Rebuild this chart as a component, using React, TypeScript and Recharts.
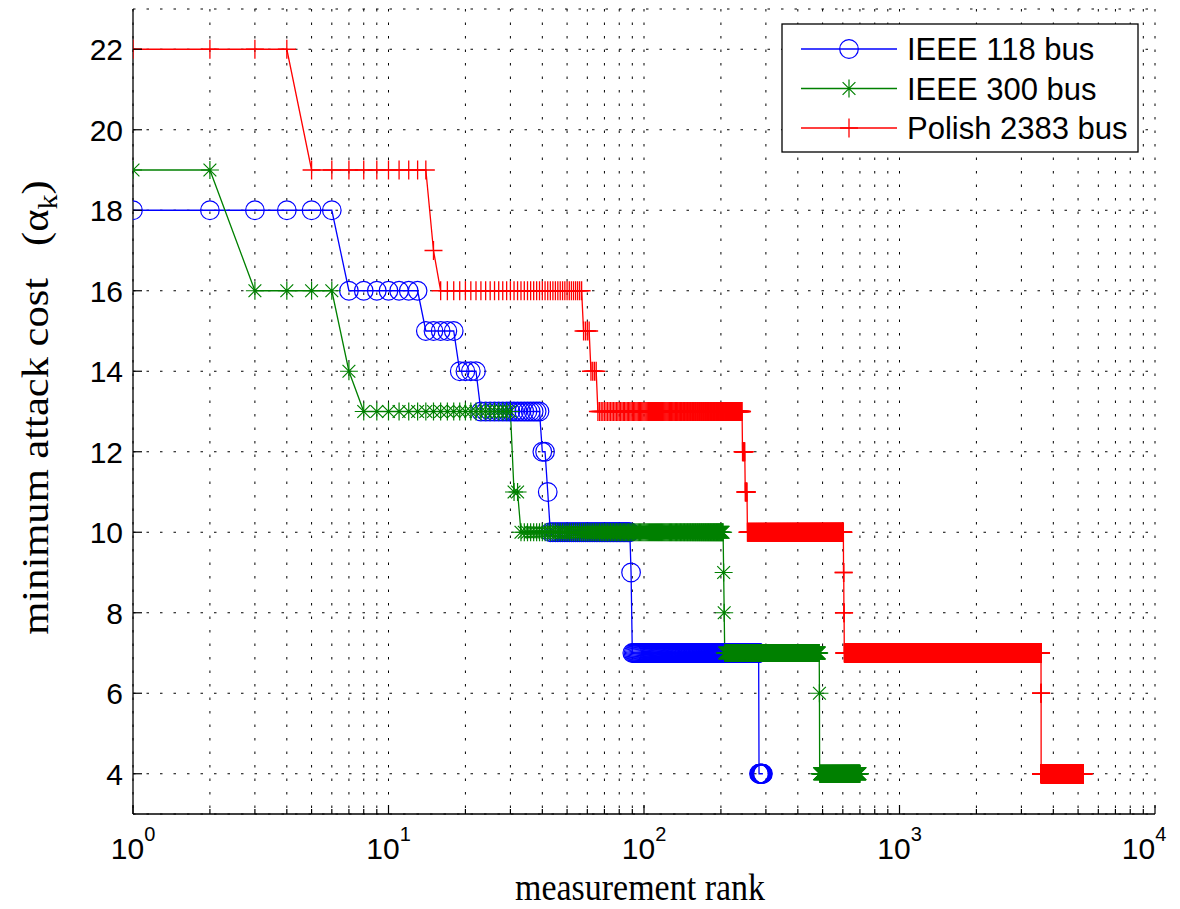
import React from 'react';
import { LineChart, Line, XAxis, YAxis, CartesianGrid } from 'recharts';

// Run-length encoded sorted minimum attack costs (value, number of measurements)
const ieee118Costs = [18, 16, 15, 14, 13, 12, 11, 10, 9, 7, 4];
const ieee118Counts = [6, 7, 5, 4, 17, 2, 1, 46, 1, 192, 11];

const ieee300Costs = [19, 16, 14, 13, 11, 10, 9, 8, 7, 6, 4];
const ieee300Counts = [2, 4, 1, 23, 2, 172, 1, 1, 279, 1, 214];

const polish2383Costs = [22, 19, 17, 16, 15, 14, 13, 12, 11, 10, 9, 8, 7, 6, 4];
const polish2383Counts = [4, 10, 1, 42, 4, 4, 177, 6, 5, 350, 2, 2, 2973, 3, 1657];

const seriesNames = ['IEEE 118 bus', 'IEEE 300 bus', 'Polish 2383 bus'];
const seriesColors = ['#0000ff', '#008000', '#ff0000'];

const xMajorTicks = [1, 10, 100, 1000, 10000];
const xMajorLabels = ['0', '1', '2', '3', '4'];
const xMinorMultipliers = [2, 3, 4, 5, 6, 7, 8, 9];
const yTicks = [4, 6, 8, 10, 12, 14, 16, 18, 20, 22];

const CHART_W = 1164;
const CHART_H = 901;

type Pt = { rank: number; cost: number };
function expand(costs: number[], counts: number[]): Pt[] {
  const out: Pt[] = [];
  let rank = 1;
  costs.forEach((c, i) => {
    for (let j = 0; j < counts[i]; j++) {
      out.push({ rank, cost: c });
      rank++;
    }
  });
  return out;
}

const data118 = expand(ieee118Costs, ieee118Counts);
const data300 = expand(ieee300Costs, ieee300Counts);
const data2383 = expand(polish2383Costs, polish2383Counts);

const allXTicks: number[] = [];
xMajorTicks.forEach((d, i) => {
  allXTicks.push(d);
  if (i < xMajorTicks.length - 1) xMinorMultipliers.forEach((m) => allXTicks.push(d * m));
});

const SANS = '"Liberation Sans", Arial, Helvetica, sans-serif';
const SERIF = '"Liberation Serif", "Times New Roman", serif';

const circleMarker = (cx: number, cy: number, color: string, key?: any) => (
  <circle key={key} cx={cx} cy={cy} r={9.3} fill="none" stroke={color} strokeWidth={1.2} />
);
const starMarker = (cx: number, cy: number, color: string, key?: any) => (
  <path
    key={key}
    d={`M${cx - 9} ${cy}h18M${cx} ${cy - 9}v18M${cx - 6.4} ${cy - 6.4}l12.8 12.8M${cx - 6.4} ${cy + 6.4}l12.8 -12.8`}
    stroke={color}
    strokeWidth={1.2}
    fill="none"
  />
);
const plusMarker = (cx: number, cy: number, color: string, key?: any) => (
  <path key={key} d={`M${cx - 9} ${cy}h18M${cx} ${cy - 9.5}v19`} stroke={color} strokeWidth={1.3} fill="none" />
);
const markers = [circleMarker, starMarker, plusMarker];

const makeDot = (idx: number) => (props: any) => {
  const { cx, cy, index } = props;
  if (cx == null || cy == null) return <g key={`e${index}`} />;
  return markers[idx](cx, cy, seriesColors[idx], `d${idx}-${index}`);
};

const BottomTick = (props: any) => {
  const { x, y, payload } = props;
  const i = xMajorTicks.indexOf(payload.value);
  const major = i >= 0;
  const halfLabel = 22;
  const lx = Math.min(x, CHART_W - 6 - halfLabel);
  return (
    <g>
      <line x1={x} x2={x} y1={y} y2={y - (major ? 9 : 5)} stroke="#000" strokeWidth={1.2} />
      {major && (
        <text x={lx} y={y + 45} textAnchor="middle" fontFamily={SANS} fontSize={30} fill="#000">
          10
          <tspan dy={-18} fontSize={20}>
            {xMajorLabels[i]}
          </tspan>
        </text>
      )}
    </g>
  );
};

const TopTick = (props: any) => {
  const { x, y, payload } = props;
  const major = xMajorTicks.indexOf(payload.value) >= 0;
  return <line x1={x} x2={x} y1={y} y2={y + (major ? 9 : 5)} stroke="#000" strokeWidth={1.2} />;
};

const LeftTick = (props: any) => {
  const { x, y, payload } = props;
  return (
    <g>
      <line x1={x} x2={x + 9} y1={y} y2={y} stroke="#000" strokeWidth={1.2} />
      <text x={x - 10} y={y} dy={11} textAnchor="end" fontFamily={SANS} fontSize={30} fill="#000">
        {payload.value}
      </text>
    </g>
  );
};

const RightTick = (props: any) => {
  const { x, y } = props;
  return <line x1={x} x2={x - 9} y1={y} y2={y} stroke="#000" strokeWidth={1.2} />;
};

const XLabel = (props: any) => {
  const vb = props.viewBox || { x: 0, y: 0, width: 0, height: 0 };
  const cx = vb.x + vb.width / 2 - 4;
  const by = vb.y + 86;
  return (
    <text
      x={0}
      y={0}
      transform={`translate(${cx} ${by}) scale(1 1.12)`}
      textAnchor="middle"
      fontFamily={SERIF}
      fontSize={34}
      fill="#000"
    >
      measurement rank
    </text>
  );
};

const YLabel = (props: any) => {
  const vb = props.viewBox || { x: 0, y: 0, width: 0, height: 0 };
  const cx = 40;
  const cy = vb.y + vb.height / 2 - 4;
  return (
    <text
      x={0}
      y={0}
      transform={`translate(${cx} ${cy}) rotate(-90) scale(1.12 1)`}
      textAnchor="middle"
      fontFamily={SERIF}
      fontSize={38}
      fill="#000"
      style={{ whiteSpace: 'pre' }}
    >
      {'minimum attack cost   (\u03B1'}
      <tspan dy={9} fontSize={27}>k</tspan>
      <tspan dy={-9}>)</tspan>
    </text>
  );
};

const LegendBox = () => {
  const bx = 774;
  const by = 16;
  const rowsY = [41, 80.5, 120];
  return (
    <g>
      <rect x={bx} y={by} width={356} height={128} fill="#fff" stroke="#000" strokeWidth={1.3} />
      {seriesNames.map((name, i) => (
        <g key={name}>
          <line x1={bx + 19} x2={bx + 115} y1={rowsY[i]} y2={rowsY[i]} stroke={seriesColors[i]} strokeWidth={1.3} />
          {markers[i](bx + 67, rowsY[i], seriesColors[i])}
          <text x={bx + 125} y={rowsY[i] + 11} fontFamily={SANS} fontSize={31} fill="#000">
            {name}
          </text>
        </g>
      ))}
    </g>
  );
};

export default function App() {
  const seriesData = [data118, data300, data2383];
  return (
    <LineChart width={CHART_W} height={CHART_H} margin={{ top: 1, right: 17, bottom: 0, left: 0 }}>
      <CartesianGrid stroke="#000" strokeWidth={1} strokeDasharray="2.5 11" />
      <XAxis
        dataKey="rank"
        type="number"
        scale="log"
        domain={[1, 10000]}
        ticks={allXTicks}
        interval={0}
        allowDataOverflow
        height={95}
        tickSize={0}
        tickMargin={0}
        tick={<BottomTick />}
        tickLine={false}
        axisLine={{ stroke: '#000', strokeWidth: 1.3 }}
        label={<XLabel />}
      />
      <XAxis
        xAxisId="top"
        orientation="top"
        dataKey="rank"
        type="number"
        scale="log"
        domain={[1, 10000]}
        ticks={allXTicks}
        interval={0}
        allowDataOverflow
        height={0}
        tickSize={0}
        tickMargin={0}
        tick={<TopTick />}
        tickLine={false}
        axisLine={{ stroke: '#000', strokeWidth: 1.3 }}
      />
      <YAxis
        type="number"
        domain={[3, 23]}
        ticks={yTicks}
        interval={0}
        width={125}
        tickSize={0}
        tickMargin={0}
        tick={<LeftTick />}
        tickLine={false}
        axisLine={{ stroke: '#000', strokeWidth: 1.3 }}
        label={<YLabel />}
      />
      <YAxis
        yAxisId="right"
        orientation="right"
        type="number"
        domain={[3, 23]}
        ticks={yTicks}
        interval={0}
        width={0}
        tickSize={0}
        tickMargin={0}
        tick={<RightTick />}
        tickLine={false}
        axisLine={{ stroke: '#000', strokeWidth: 1.3 }}
      />
      {seriesData.map((d, i) => (
        <Line
          key={seriesNames[i]}
          data={d}
          dataKey="cost"
          name={seriesNames[i]}
          type="linear"
          stroke={seriesColors[i]}
          strokeWidth={1.3}
          dot={makeDot(i)}
          activeDot={false}
          isAnimationActive={false}
        />
      ))}
      <LegendBox />
    </LineChart>
  );
}
